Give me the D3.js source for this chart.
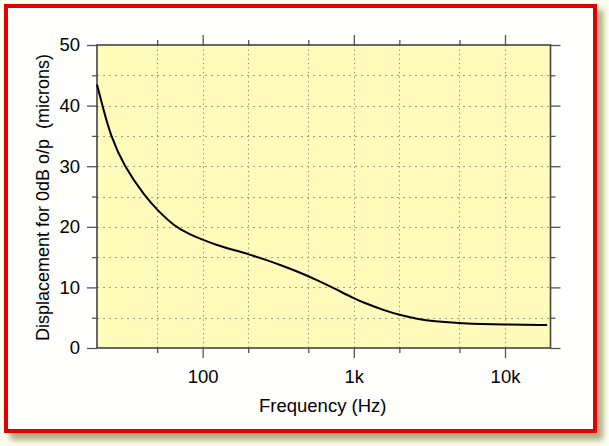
<!DOCTYPE html>
<html><head><meta charset="utf-8">
<script src="https://cdn.jsdelivr.net/npm/d3@7"></script>
<style>
html,body{margin:0;padding:0;background:#fffff0;}
svg{display:block;font-family:"Liberation Sans",Arial,Helvetica,sans-serif;}
</style></head>
<body>
<script>
// Data
const freqs = [20, 21.7, 24.6, 30.2, 41.6, 50, 65, 80, 100, 124, 159, 200, 266, 343, 441, 570, 734, 1000, 1222, 1570, 2000, 2630, 3400, 5000, 10000, 19000];
const displacement = [43.5, 40, 35, 30, 25, 22.8, 20.1, 18.9, 17.85, 17.0, 16.2, 15.5, 14.5, 13.5, 12.45, 11.2, 9.9, 8.2, 7.26, 6.27, 5.45, 4.8, 4.4, 4.07, 3.85, 3.8];
const xTickValues = [100, 1000, 10000];
const xTickLabels = ["100", "1k", "10k"];
const xMinorValues = [50, 200, 500, 2000, 5000];
const yTickValues = [0, 10, 20, 30, 40, 50];
const yMinorValues = [5, 15, 25, 35, 45];
const xTitle = "Frequency (Hz)";
const yTitle = "Displacement for 0dB o/p  (microns)";

(function () {
const W = 609, H = 446;
const svg = d3.select("body").append("svg").attr("width", W).attr("height", H);

const defs = svg.append("defs");
const flt = defs.append("filter").attr("id","blur").attr("x","-5%").attr("y","-5%").attr("width","110%").attr("height","110%");
flt.append("feGaussianBlur").attr("stdDeviation", 3);

// page background
svg.append("rect").attr("width", W).attr("height", H).attr("fill", "#fffff0");
// shadow
svg.append("rect").attr("x", 10).attr("y", 10).attr("width", 593).attr("height", 430)
  .attr("fill", "#8c8c5a").attr("opacity", 0.75).attr("filter", "url(#blur)");
// frame
svg.append("rect").attr("x", 6).attr("y", 6).attr("width", 589).attr("height", 425)
  .attr("fill", "#fffffd").attr("stroke", "#e00000").attr("stroke-width", 4);

const L = 97, R = 550.5, T = 45, B = 348;
const x = d3.scaleLog().domain([20, 20000]).range([L, R]);
const y = d3.scaleLinear().domain([0, 50]).range([B, T]);

// plot background
svg.append("rect").attr("x", L).attr("y", T).attr("width", R - L).attr("height", B - T).attr("fill", "#fffbbb");

// grid
const grid = svg.append("g");
grid.selectAll("line.vg").data(xMinorValues.concat(xTickValues)).enter().append("line")
  .attr("x1", d => Math.round(x(d)) + 0.5).attr("x2", d => Math.round(x(d)) + 0.5)
  .attr("y1", T).attr("y2", B)
  .attr("stroke", "#8a8a6a").attr("stroke-width", 1).attr("stroke-dasharray", "1.2,3.3");
grid.selectAll("line.hg").data(yMinorValues.concat(yTickValues.slice(1, -1))).enter().append("line")
  .attr("x1", L).attr("x2", R)
  .attr("y1", d => Math.round(y(d)) + 0.5).attr("y2", d => Math.round(y(d)) + 0.5)
  .attr("stroke", "#9d9d85").attr("stroke-width", 1).attr("stroke-dasharray", "2,4");

// axes
const axColor = "#555";
function styleAxis(g) {
  g.select(".domain").remove();
  g.selectAll(".tick line").attr("stroke", axColor).attr("stroke-width", 1.3);
}
const axB = svg.append("g").attr("transform", `translate(0,${B})`)
  .call(d3.axisBottom(x).tickValues(xTickValues).tickFormat((d, i) => xTickLabels[i]).tickSize(10).tickPadding(12));
styleAxis(axB);
axB.selectAll("text").attr("font-size", 18.5).attr("fill", "#000").attr("font-family", "Liberation Sans, Arial, sans-serif");
svg.append("g").attr("transform", `translate(0,${B})`)
  .call(d3.axisBottom(x).tickValues(xMinorValues).tickFormat("").tickSize(5)).call(styleAxis);

const axT = svg.append("g").attr("transform", `translate(0,${T})`)
  .call(d3.axisTop(x).tickValues(xTickValues).tickFormat("").tickSize(10));
styleAxis(axT);
svg.append("g").attr("transform", `translate(0,${T})`)
  .call(d3.axisTop(x).tickValues(xMinorValues).tickFormat("").tickSize(5)).call(styleAxis);

const axL = svg.append("g").attr("transform", `translate(${L},0)`)
  .call(d3.axisLeft(y).tickValues(yTickValues).tickSize(10).tickPadding(7));
styleAxis(axL);
axL.selectAll("text").attr("font-size", 18.5).attr("fill", "#000").attr("font-family", "Liberation Sans, Arial, sans-serif");
svg.append("g").attr("transform", `translate(${L},0)`)
  .call(d3.axisLeft(y).tickValues(yMinorValues).tickFormat("").tickSize(5)).call(styleAxis);

svg.append("g").attr("transform", `translate(${R},0)`)
  .call(d3.axisRight(y).tickValues(yTickValues).tickFormat("").tickSize(10)).call(styleAxis);
svg.append("g").attr("transform", `translate(${R},0)`)
  .call(d3.axisRight(y).tickValues(yMinorValues).tickFormat("").tickSize(5)).call(styleAxis);

// frame lines of plot area
svg.append("rect").attr("x", L).attr("y", T).attr("width", R - L).attr("height", B - T)
  .attr("fill", "none").attr("stroke", "#444").attr("stroke-width", 1.6);

// curve
const line = d3.line().x((d, i) => x(freqs[i])).y(d => y(d)).curve(d3.curveBasis);
svg.append("path").datum(displacement).attr("d", line)
  .attr("fill", "none").attr("stroke", "#000").attr("stroke-width", 2);

// titles
svg.append("text").attr("x", (L + R) / 2 - 1).attr("y", 412).attr("text-anchor", "middle")
  .attr("font-size", 18.5).attr("fill", "#000").text(xTitle);
svg.append("text").attr("transform", `translate(49,${(T + B) / 2 + 1}) rotate(-90)`)
  .attr("text-anchor", "middle").attr("font-size", 18).attr("fill", "#000")
  .style("white-space", "pre").text(yTitle);
})();
</script>
</body></html>
